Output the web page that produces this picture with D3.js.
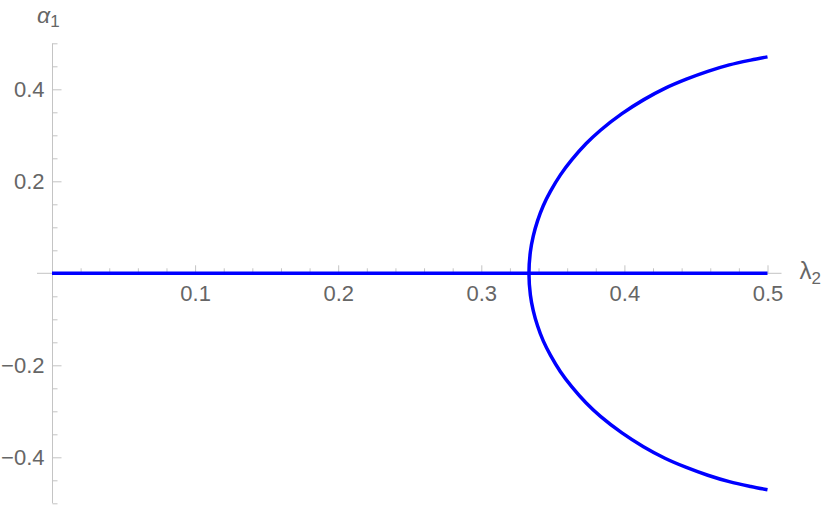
<!DOCTYPE html>
<html>
  <head>
    <meta charset="utf-8">
    <script src="https://d3js.org/d3.v7.min.js"></script>
    <style>
      body { margin: 0; background: #fff; }
      text { font-family: "Liberation Sans", Arial, sans-serif; fill: #666; }
    </style>
  </head>

  <body>
    <div id="vis"></div>
  </body>

  <script>
    // trivial branch alpha = 0
    var lambdaFlat = [0, 0.5]
    var alphaFlat = [0, 0]

    // pitchfork branches
    var lambdaBranch = [0.3333, 0.3343, 0.3363, 0.3393, 0.3433, 0.3483, 0.3553, 0.3633, 0.3733, 0.3833, 0.3983, 0.4133, 0.4283, 0.4433, 0.4583, 0.4733, 0.4883, 0.5]
    var alphaUpper = [0, 0.047, 0.081, 0.114, 0.147, 0.178, 0.214, 0.247, 0.282, 0.311, 0.347, 0.377, 0.402, 0.422, 0.439, 0.453, 0.4635, 0.4705]
    var alphaLower = [0, -0.047, -0.081, -0.114, -0.147, -0.178, -0.214, -0.247, -0.282, -0.311, -0.347, -0.377, -0.402, -0.422, -0.439, -0.453, -0.4635, -0.4705]

    // ticks
    var xMajor = [0.1, 0.2, 0.3, 0.4, 0.5]
    var xMinor = [0.02, 0.04, 0.06, 0.08, 0.12, 0.14, 0.16, 0.18, 0.22, 0.24, 0.26, 0.28, 0.32, 0.34, 0.36, 0.38, 0.42, 0.44, 0.46, 0.48]
    var yMajor = [-0.4, -0.2, 0.2, 0.4]
    var yMinor = [-0.5, -0.45, -0.35, -0.3, -0.25, -0.15, -0.1, -0.05, 0.05, 0.1, 0.15, 0.25, 0.3, 0.35, 0.45, 0.5]

    var width = 830
    var height = 508
    var axisColor = "#c4c4c4"

    var svg = d3.select("#vis")
      .append("svg")
      .attr("width", width)
      .attr("height", height)

    var x = d3.scaleLinear().domain([0, 0.5]).range([52, 767.5])
    var y = d3.scaleLinear().domain([-0.5, 0.5]).range([503.3, 43.3])

    // x axis (at alpha = 0)
    var gx = svg.append("g").attr("transform", "translate(0," + y(0) + ")")
    gx.append("line")
      .attr("x1", x(0) - 15).attr("x2", x(0.5) + 14)
      .attr("stroke", axisColor)
    gx.append("g")
      .call(d3.axisBottom(x).tickValues(xMinor).tickSize(-5).tickFormat(""))
    gx.append("g")
      .call(d3.axisBottom(x).tickValues(xMajor).tickSize(-8).tickPadding(12).tickFormat(d3.format(".1f")))
    gx.selectAll(".domain").remove()
    gx.selectAll(".tick line").attr("stroke", axisColor)
    gx.selectAll("text").style("font-size", "22px").attr("fill", "#666")

    // y axis (at lambda = 0)
    var gy = svg.append("g").attr("transform", "translate(" + (x(0) + 0.5) + ",0)")
    gy.append("line")
      .attr("y1", y(0.5)).attr("y2", y(-0.5))
      .attr("stroke", axisColor)
    gy.append("g")
      .call(d3.axisLeft(y).tickValues(yMinor).tickSize(-5).tickFormat(""))
    gy.append("g")
      .call(d3.axisLeft(y).tickValues(yMajor).tickSize(-9).tickPadding(8).tickFormat(d3.format(".1f")))
    gy.selectAll(".domain").remove()
    gy.selectAll(".tick line").attr("stroke", axisColor)
    gy.selectAll("text").style("font-size", "22px").attr("fill", "#666").attr("dy", "0.34em")

    // axis labels
    var xl = svg.append("text")
      .attr("x", x(0.5) + 32)
      .attr("y", y(0) + 6)
      .style("font-size", "24px")
    xl.append("tspan").text("λ")
    xl.append("tspan").attr("dy", 5).style("font-size", "17px").text("2")

    var yl = svg.append("text")
      .attr("x", 37)
      .attr("y", 23)
      .style("font-size", "23px")
      .style("font-style", "italic")
    yl.append("tspan").text("α")
    yl.append("tspan").attr("dy", 4).style("font-size", "17px").style("font-style", "normal").text("1")

    // curves
    var line = d3.line()
      .x(function(d) { return x(d[0]) })
      .y(function(d) { return y(d[1]) })

    var flat = lambdaFlat.map(function(l, i) { return [l, alphaFlat[i]] })
    svg.append("path")
      .datum(flat)
      .attr("d", line)
      .attr("fill", "none")
      .attr("stroke", "#0000ff")
      .attr("stroke-width", 3.5)

    var branch = []
    for (let i = lambdaBranch.length - 1; i > 0; i--) {
      branch.push([lambdaBranch[i], alphaLower[i]])
    }
    for (let i = 0; i < lambdaBranch.length; i++) {
      branch.push([lambdaBranch[i], alphaUpper[i]])
    }
    svg.append("path")
      .datum(branch)
      .attr("d", line.curve(d3.curveCatmullRom))
      .attr("fill", "none")
      .attr("stroke", "#0000ff")
      .attr("stroke-width", 3.5)
  </script>
</html>
